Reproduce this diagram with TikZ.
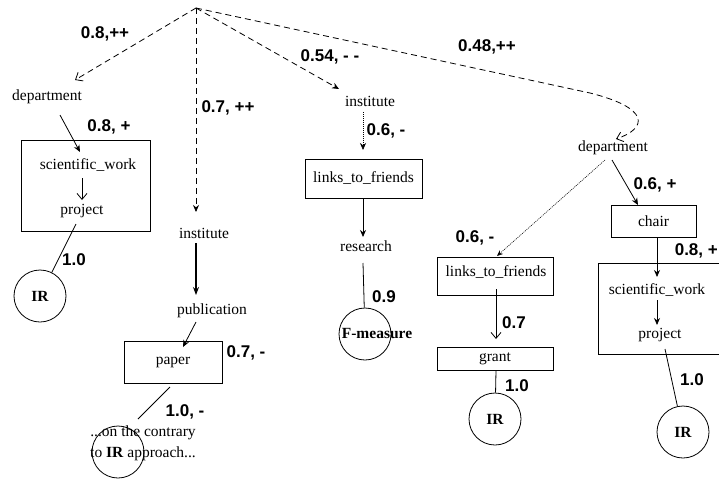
\documentclass[tikz,border=0pt]{standalone}
\usepackage{fontspec}
\setmainfont{Liberation Serif}
\setsansfont{Liberation Sans}
\usetikzlibrary{arrows.meta}
\begin{document}
\begin{tikzpicture}[x=1pt,y=-1pt,
 txt/.style={inner sep=0pt, font=\fontsize{15.5}{21}\selectfont},
 lab/.style={inner sep=0pt, font=\sffamily\bfseries\fontsize{17}{20}\selectfont},
 boxn/.style={draw, inner sep=0pt, line width=0.8pt, font=\fontsize{15.5}{18}\selectfont},
 circ/.style={draw, circle, minimum size=52pt, inner sep=0pt, line width=0.8pt, font=\bfseries\fontsize{15.5}{18}\selectfont},
 ln/.style={line width=0.8pt},
 fa/.style={ln, -{Stealth[length=7pt,width=6pt]}},
 oa/.style={ln, -{Straight Barb[length=6pt,width=10pt]}},
 dsh/.style={dash pattern=on 6pt off 4pt},
 dotl/.style={dash pattern=on 1pt off 1pt, line width=0.6pt},
]
\useasboundingbox (0,0) rectangle (719,479);

% ---- nodes ----
\coordinate (root) at (196,8);

% left branch
\node[txt] (dep1) at (47,97) {department};
\node[boxn, minimum width=129pt, minimum height=91pt] (boxA) at (85.5,185.5) {};
\node[txt] (sw1) at (88,165) {scientific\_work};
\node[txt] (pr1) at (82,211) {project};
\node[circ] (ir1) at (40,296) {IR};

% second branch
\node[txt] (inst1) at (204,233) {institute};
\node[txt] (pub) at (212,311) {publication};
\node[boxn, minimum width=98pt, minimum height=42pt] (paper) at (173,362) {paper};
\node[txt, align=center] (contr) at (143,443) {...on the contrary\\to \textbf{IR} approach...};
\node[circ] (ir2) at (118,452) {};

% third branch
\node[txt] (inst2) at (370,101) {institute};
\node[boxn, minimum width=117pt, minimum height=39pt] (ltf1) at (363.5,178.5) {links\_to\_friends};
\node[txt] (res) at (366,246) {research};
\node[circ] (fm) at (365,334) {};
\node[inner sep=0pt, font=\bfseries\fontsize{15.5}{18}\selectfont] (fmt) at (377,334) {F-measure};

% fourth branch
\node[txt] (dep2) at (613,148) {department};
\node[boxn, minimum width=116pt, minimum height=38pt] (ltf2box) at (495,276) {};
\node[txt] (ltf2) at (496,272) {links\_to\_friends};
\node[boxn, minimum width=116pt, minimum height=23pt] (grant) at (495,358.5) {grant};
\node[circ] (ir3) at (495,419) {IR};
\node[boxn, minimum width=85pt, minimum height=32pt] (chair) at (653.5,221) {chair};
\node[boxn, minimum width=127pt, minimum height=91pt] (boxB) at (661.5,308.5) {};
\node[txt] (sw2) at (657,290) {scientific\_work};
\node[txt] (pr2) at (660,335) {project};
\node[circ] (ir4) at (683,432) {IR};

% ---- connector end points ----
\coordinate (t1) at (75,80);
\coordinate (t2) at (196,212);
\coordinate (t3) at (339,89);
\coordinate (t4) at (616,139);
\coordinate (a1s) at (60,115);   \coordinate (a1e) at (80,152);
\coordinate (a2s) at (82,178);   \coordinate (a2e) at (82,200);
\coordinate (a3s) at (76,224);
\coordinate (a4s) at (196,243);  \coordinate (a4e) at (196,295);
\coordinate (a5s) at (196,322);  \coordinate (a5e) at (183,347);
\coordinate (a6s) at (170,387);  \coordinate (a6e) at (138,419);
\coordinate (b1s) at (363,112);  \coordinate (b1e) at (363,150);
\coordinate (b2e) at (363,237);
\coordinate (b3s) at (363,263);
\coordinate (c1s) at (605,160);  \coordinate (c1e) at (497,256);
\coordinate (c2s) at (496,289);  \coordinate (c2e) at (496,339);
\coordinate (d1s) at (612,160);  \coordinate (d1e) at (638,205);
\coordinate (d2s) at (657,237);  \coordinate (d2e) at (657,277);
\coordinate (d3s) at (657,300);  \coordinate (d3e) at (657,325);
\coordinate (d4s) at (665,349);

% ---- connectors ----
\draw[oa, dsh] (root) -- (t1);
\draw[fa, dsh] (root) -- (t2);
\draw[fa, dsh] (root) -- (t3);
\draw[oa, dsh] (root) -- (590,93) .. controls (650,108) and (648,128) .. (t4);

\draw[fa] (a1s) -- (a1e);
\draw[oa] (a2s) -- (a2e);
\draw[ln] (a3s) -- (ir1);
\draw[line width=1.2pt, -{Stealth[length=8pt,width=6pt]}] (a4s) -- (a4e);
\draw[fa] (a5s) -- (a5e);
\draw[ln] (a6s) -- (a6e);

\draw[dotl, -{Stealth[length=7pt,width=6pt]}] (b1s) -- (b1e);
\draw[fa] (ltf1.south -| b1s) -- (b2e);
\draw[ln] (b3s) -- (fm);

\draw[dotl, -{Stealth[length=6pt,width=5pt]}] (c1s) -- (c1e);
\draw[oa] (c2s) -- (c2e);
\draw[ln] (grant.south -| c2s) -- (ir3);

\draw[fa] (d1s) -- (d1e);
\draw[fa] (d2s) -- (d2e);
\draw[fa] (d3s) -- (d3e);
\draw[ln] (d4s) -- (ir4);

% ---- labels ----
\node[lab] (l1) at (105,34) {0.8,++};
\node[lab] (l2) at (228,108) {0.7, ++};
\node[lab] (l3) at (330,57) {0.54, - -};
\node[lab] (l4) at (487,47) {0.48,++};
\node[lab] (l5) at (109,127) {0.8, +};
\node[lab] (l6) at (74,260) {1.0};
\node[lab] (l7) at (246,353) {0.7, -};
\node[lab] (l8) at (185,412) {1.0, -};
\node[lab] (l9) at (386,131) {0.6, -};
\node[lab] (l10) at (384,297) {0.9};
\node[lab] (l11) at (475,238) {0.6, -};
\node[lab] (l12) at (514,323) {0.7};
\node[lab] (l13) at (517,386) {1.0};
\node[lab] (l14) at (655,185) {0.6, +};
\node[lab, anchor=east] (l15) at (718,251) {0.8, +};
\node[lab] (l16) at (692,380) {1.0};
\end{tikzpicture}
\end{document}
